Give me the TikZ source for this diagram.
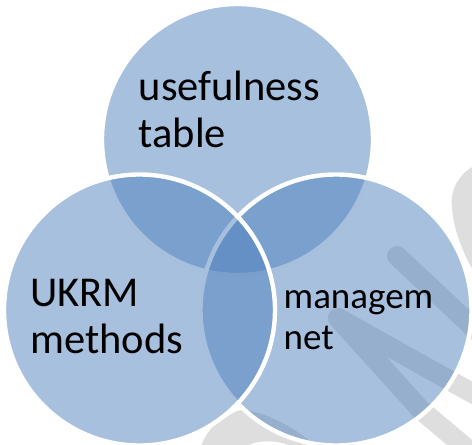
\documentclass[tikz,border=0pt]{standalone}
\usepackage{fontspec}
\setmainfont{Carlito}
\definecolor{vennblue}{HTML}{4F81BD}
\definecolor{markgray}{HTML}{DEDEDE}
\tikzset{
  venn/.style={circle,minimum size=271pt,inner sep=0pt,outer sep=0pt,fill=vennblue,fill opacity=.5,draw=white,draw opacity=1,line width=4.4pt},
  band/.style={draw=markgray,line width=20pt,line cap=round,line join=round},
  blob/.style={fill=markgray,draw=none},
  biglabel/.style={anchor=base west,align=left,inner sep=0pt,text=black,font=\fontsize{42.5}{46.5}\selectfont},
  smalllabel/.style={anchor=base west,align=left,inner sep=0pt,text=black,font=\fontsize{37}{41}\selectfont}
}
\begin{document}
\begin{tikzpicture}[x=1pt,y=-1pt]
\useasboundingbox (0,0) rectangle (472,445);
\clip (0,0) rectangle (472,445);
% watermark behind the circles
\draw[band] (397,256) -- (490,343);
\draw[band] (338,318) -- (490,403);
\draw[band] (338,318) -- (421,410) -- (490,468);
\fill[blob] (480,160) -- (472,167) .. controls (458,176) and (450,190) .. (452,207)
  .. controls (453,222) and (457,235) .. (461,245) .. controls (464,253) and (468,262) .. (472,268) -- (480,280) -- cycle;
\fill[blob] (200,450) .. controls (203,438) and (210,427) .. (222,420)
  .. controls (228,416) and (234,411) .. (242,410) .. controls (256,411) and (270,416) .. (288,426)
  .. controls (300,433) and (310,441) .. (322,450) -- (300,450) .. controls (285,442) and (272,440) .. (258,442)
  .. controls (252,443) and (246,446) .. (240,450) -- cycle;
% the three circles, in stacking order
\node[venn] (usefulness) at (237.5,139.5) {};
\node[venn] (management) at (336,310) {};
\node[venn] (ukrm) at (139.5,310) {};
% labels
\node[biglabel] (usefulnesslabel) at (138.5,147) {usefulness\\table};
\node[biglabel] (ukrmlabel) at (30,353) {UKRM\\methods};
\node[smalllabel] (managementlabel) at (283.5,349) {managem\\net};
\end{tikzpicture}
\end{document}
